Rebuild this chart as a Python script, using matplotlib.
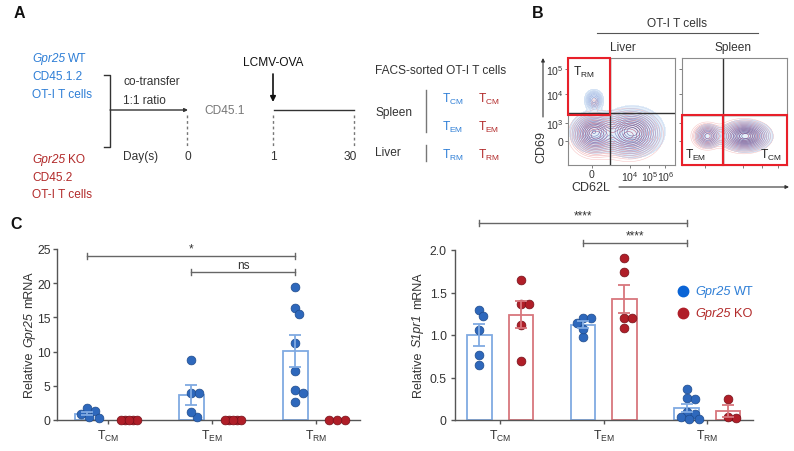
import numpy as np
import matplotlib
matplotlib.use("Agg")
import matplotlib.pyplot as plt

plt.rcParams["font.family"] = ["Liberation Sans", "DejaVu Sans"]
plt.rcParams["mathtext.fontset"] = "custom"
plt.rcParams["mathtext.rm"] = "Liberation Sans"
plt.rcParams["mathtext.it"] = "Liberation Sans:italic"
plt.rcParams["mathtext.default"] = "regular"

W, H = 794, 452

# ---- panel C data ----
categories = ["T$_{CM}$", "T$_{EM}$", "T$_{RM}$"]

gpr25_wt = [
    [0.5, 1.75, 0.9, 1.25, 0.3],
    [8.7, 4.0, 4.0, 0.4, 1.1],
    [19.5, 16.4, 15.5, 11.3, 7.1, 4.4, 3.9, 2.6],
]
gpr25_ko = [
    [0.0, 0.0, 0.0, 0.0, 0.0],
    [0.0, 0.0, 0.0, 0.0, 0.0],
    [0.0, 0.0, 0.0],
]
gpr25_yticks = [0, 5, 10, 15, 20, 25]
gpr25_sig = [("*", 0, 2, 24.0), ("ns", 1, 2, 21.6)]

s1pr1_wt = [
    [1.30, 1.22, 1.06, 0.77, 0.65],
    [1.205, 1.205, 1.14, 0.98, 1.07],
    [0.37, 0.26, 0.25, 0.10, 0.07, 0.03, 0.01, 0.01],
]
s1pr1_ko = [
    [1.65, 1.37, 1.37, 1.12, 0.69],
    [1.91, 1.74, 1.205, 1.205, 1.08],
    [0.25, 0.02, 0.04],
]
s1pr1_yticks = [0, 0.5, 1.0, 1.5, 2.0]
s1pr1_yticklabels = ["0", "0.5", "1.0", "1.5", "2.0"]
s1pr1_sig = [("****", 0, 2, 2.32), ("****", 1, 2, 2.086)]

# ---- panel B: contour populations (centre x, centre y, sigma x, sigma y, weight), axes fraction ----
liver_wt_pops = [(0.243, 0.607, 0.04, 0.045, 0.55), (0.24, 0.31, 0.09, 0.08, 1.0), (0.60, 0.31, 0.12, 0.095, 1.2)]
liver_ko_pops = [(0.25, 0.58, 0.022, 0.03, 0.12), (0.25, 0.28, 0.10, 0.09, 1.1), (0.57, 0.28, 0.13, 0.10, 1.0)]
spleen_wt_pops = [(0.25, 0.27, 0.055, 0.05, 0.6), (0.61, 0.27, 0.10, 0.06, 1.3), (0.21, 0.60, 0.01, 0.03, 0.04)]
spleen_ko_pops = [(0.24, 0.27, 0.065, 0.055, 0.7), (0.59, 0.27, 0.11, 0.065, 1.0)]
flow_ytick_pos = [0.90, 0.66, 0.39, 0.22]
flow_yticklabels = ["10$^5$", "10$^4$", "10$^3$", "0"]
flow_xtick_pos = [0.22, 0.58, 0.76, 0.91]
flow_xticklabels = ["0", "10$^4$", "10$^5$", "10$^6$"]

BLUE_PT = "#2E68BC"
BLUE_EDGE = "#1D4A8C"
BLUE_BAR = "#80AAE2"
RED_PT = "#B01E28"
RED_EDGE = "#741019"
RED_BAR = "#D8767D"
BLUE_TXT = "#2E7ED6"
RED_TXT = "#B22A2A"
AX_COL = "#555555"
TXT = "#333333"
FS = 8.6


def rect(x0, y0, x1, y1):
    return [x0 / W, 1 - y1 / H, (x1 - x0) / W, (y1 - y0) / H]


def swarm(values, ax, center, dia_px=8.0, half_px=12.0):
    # simple beeswarm in pixel space
    ppu_y = ax.bbox.height / (ax.get_ylim()[1] - ax.get_ylim()[0])
    ppu_x = ax.bbox.width / (ax.get_xlim()[1] - ax.get_xlim()[0])
    placed = []
    xs = [0.0] * len(values)
    order = np.argsort(values)[::-1]
    cands = np.arange(0, half_px + 0.1, 2.0)
    cands = sorted(set(list(cands) + list(-cands)), key=abs)
    for i in order:
        y = values[i] * ppu_y
        best, best_d = 0.0, -1
        for c in cands:
            d = min([np.hypot(c - px, y - py) for px, py in placed] or [99])
            if d >= 0.9 * dia_px:
                best = c
                break
            if d > best_d:
                best, best_d = c, d
        placed.append((best, y))
        xs[i] = center + best / ppu_x
    return xs


def bar_panel(ax, wt, ko, yticks, ylim, xlim, sig):
    ax.set_xlim(*xlim)
    ax.set_ylim(*ylim)
    off, bw = 0.2, 0.235
    for i in range(len(categories)):
        for vals, sgn, pc, ec, bc in [(wt[i], -1, BLUE_PT, BLUE_EDGE, BLUE_BAR),
                                      (ko[i], 1, RED_PT, RED_EDGE, RED_BAR)]:
            x = i + sgn * off
            v = np.array(vals)
            m = v.mean()
            sem = v.std(ddof=1) / np.sqrt(len(v))
            ax.bar(x, m, width=bw, facecolor="white", edgecolor=bc, linewidth=1.3, zorder=1)
            xs = swarm(vals, ax, x)
            ax.scatter(xs, vals, s=40, facecolor=pc, edgecolor=ec, linewidth=0.5, zorder=3, clip_on=False)
            if sem > 0:
                ax.errorbar(x, m, yerr=sem, color=bc, capsize=4.5, elinewidth=1.3, capthick=1.3, zorder=4)
    for lab, a, b, y in sig:
        x0, x1 = a - off, b - off
        cap = (ylim[1] - ylim[0]) * 0.018
        ax.plot([x0, x1], [y, y], color="#666666", lw=1.0, clip_on=False)
        ax.plot([x0, x0], [y - cap, y + cap], color="#666666", lw=1.0, clip_on=False)
        ax.plot([x1, x1], [y - cap, y + cap], color="#666666", lw=1.0, clip_on=False)
        ax.text((x0 + x1) / 2, y + cap * 0.5, lab, ha="center", va="bottom", fontsize=8.5, color=TXT)
    for s in ["top", "right"]:
        ax.spines[s].set_visible(False)
    for s in ["left", "bottom"]:
        ax.spines[s].set_color(AX_COL)
        ax.spines[s].set_linewidth(1.0)
    ax.set_xticks(range(len(categories)))
    ax.set_xticklabels(categories, fontsize=9.5, color=TXT)
    ax.set_yticks(yticks)
    ax.tick_params(colors=AX_COL, labelcolor=TXT, labelsize=8.8, length=3, width=1.0)
    ax.tick_params(axis="y", pad=1.5)
    ax.tick_params(axis="x", pad=3)


def density(pops, X, Y):
    Z = np.zeros_like(X)
    for cx, cy, sx, sy, w in pops:
        Z += w * np.exp(-((X - cx) ** 2 / (2 * sx ** 2) + (Y - cy) ** 2 / (2 * sy ** 2)))
    return Z


def flow_panel(ax, wt_pops, ko_pops, vline, hline):
    g = np.linspace(0, 1, 240)
    X, Y = np.meshgrid(g, g)
    lv = np.array([0.04, 0.07, 0.1, 0.14, 0.19, 0.25, 0.32, 0.4, 0.48, 0.56, 0.65, 0.74, 0.83, 0.92])
    Zw = density(wt_pops, X, Y)
    Zk = density(ko_pops, X, Y)
    ax.contourf(X, Y, Zw, levels=[0.035 * Zw.max(), Zw.max() * 1.01], colors=["#d3e2f5"], alpha=0.55)
    kcol = plt.matplotlib.colors.LinearSegmentedColormap.from_list("k", ["#f4b4b4", "#d04a5a", "#9a2a60"])
    wcol = plt.matplotlib.colors.LinearSegmentedColormap.from_list("w", ["#b8cfee", "#5a78c8", "#2a3688"])
    ax.contour(X, Y, Zk, levels=lv * Zk.max(), colors=[kcol(t) for t in np.linspace(0, 1, len(lv))],
               linewidths=0.4, alpha=0.75)
    ax.contour(X, Y, Zw, levels=lv * Zw.max(), colors=[wcol(t) for t in np.linspace(0, 1, len(lv))],
               linewidths=0.4, alpha=0.7)
    ax.axvline(vline, color="#333333", lw=1.0)
    ax.axhline(hline, color="#333333", lw=1.0)
    ax.set_xlim(0, 1)
    ax.set_ylim(0, 1)
    for s in ax.spines.values():
        s.set_color("#8a8a8a")
        s.set_linewidth(0.8)
    ax.set_xticks(flow_xtick_pos)
    ax.set_yticks(flow_ytick_pos)
    ax.tick_params(length=2, width=0.6, colors="#666666", labelsize=7.6, labelcolor=TXT, pad=1)


fig = plt.figure(figsize=(W / 100, H / 100), dpi=100)

# ---- panel C ----
axl = fig.add_axes(rect(57, 250, 360, 421))
bar_panel(axl, gpr25_wt, gpr25_ko, gpr25_yticks, (0, 25), (-0.49, 2.42), gpr25_sig)

axr = fig.add_axes(rect(455, 251, 753, 421))
bar_panel(axr, s1pr1_wt, s1pr1_ko, s1pr1_yticks, (0, 2.0), (-0.435, 2.44), s1pr1_sig)
axr.set_yticklabels(s1pr1_yticklabels)
axr.tick_params(axis="y", pad=3)

# ---- panel B ----
axlv = fig.add_axes(rect(568, 59, 675, 166))
flow_panel(axlv, liver_wt_pops, liver_ko_pops, 0.39, 0.49)
axlv.set_yticklabels(flow_yticklabels)
axlv.set_xticklabels(flow_xticklabels)
axsp = fig.add_axes(rect(682, 59, 787, 166))
flow_panel(axsp, spleen_wt_pops, spleen_ko_pops, 0.39, 0.47)
axsp.set_yticklabels([])
axsp.set_xticklabels([])

# ---- overlay: schematic (A), panel labels, gates, labels with italic gene names ----
ov = fig.add_axes([0, 0, 1, 1])
ov.set_xlim(0, W)
ov.set_ylim(H, 0)
ov.axis("off")
ov.set_zorder(10)
ov.patch.set_alpha(0)


def mixed(x, y, parts, color, fs=FS, gap=2.3):
    t = ov.text(x, y, parts[0][0], fontsize=fs, color=color, va="center", ha="left",
                style="italic" if parts[0][1] else "normal")
    for s, it in parts[1:]:
        t = ov.annotate(s, xy=(1, 0), xycoords=t, xytext=(gap, 0), textcoords="offset points",
                        fontsize=fs, color=color, va="bottom", ha="left",
                        style="italic" if it else "normal")
    return t


def mixed_vert(x, y_bottom, parts, color, fs=9, gap=3.2):
    t = ov.text(x, y_bottom, parts[0][0], fontsize=fs, color=color, va="bottom", ha="center",
                rotation=90, style="italic" if parts[0][1] else "normal")
    for s, it in parts[1:]:
        t = ov.annotate(s, xy=(0, 1), xycoords=t, xytext=(0, gap), textcoords="offset points",
                        fontsize=fs, color=color, va="bottom", ha="left", rotation=90,
                        style="italic" if it else "normal")
    return t


mixed_vert(29, 397, [("Relative", False), ("Gpr25", True), ("mRNA", False)], TXT)
mixed_vert(418, 397, [("Relative", False), ("S1pr1", True), ("mRNA", False)], TXT)

# legend of panel C right
ov.plot([683], [292], ls="none", marker="o", markersize=7.5, color="#0A64D6")
ov.plot([683], [314], ls="none", marker="o", markersize=7.5, color=RED_PT)
mixed(695, 292, [("Gpr25", True), ("WT", False)], BLUE_TXT, fs=9.2)
mixed(695, 314, [("Gpr25", True), ("KO", False)], RED_TXT, fs=9.2)

for lab, x, y in [("A", 14, 14), ("B", 532, 13), ("C", 10, 225)]:
    ov.text(x, y, lab, fontsize=11.5, fontweight="bold", ha="left", va="center", color="#111111")

mixed(32, 59, [("Gpr25", True), ("WT", False)], BLUE_TXT)
ov.text(32, 77, "CD45.1.2", fontsize=FS, color=BLUE_TXT, va="center")
ov.text(32, 95, "OT-I T cells", fontsize=FS, color=BLUE_TXT, va="center")
mixed(32, 160, [("Gpr25", True), ("KO", False)], RED_TXT)
ov.text(32, 178, "CD45.2", fontsize=FS, color=RED_TXT, va="center")
ov.text(32, 195, "OT-I T cells", fontsize=FS, color=RED_TXT, va="center")

ov.plot([104, 110, 110, 104], [76, 76, 148, 148], color=TXT, lw=1.0)
ov.annotate("", xy=(188, 111), xytext=(110, 111),
            arrowprops=dict(arrowstyle="-|>", color=TXT, lw=1.0, mutation_scale=5, shrinkA=0, shrinkB=0))
ov.text(123, 82, "co-transfer", fontsize=FS, color=TXT, va="center")
ov.text(123, 101, "1:1 ratio", fontsize=FS, color=TXT, va="center")
ov.text(204, 111, "CD45.1", fontsize=FS, color="#777777", va="center")
for x in [187, 273, 354]:
    ov.plot([x, x], [116, 148], color="#777777", lw=1.0, ls=(0, (2, 2)))
ov.text(123, 157, "Day(s)", fontsize=FS, color=TXT, va="center")
for lab, x in [("0", 188), ("1", 273), ("30", 350)]:
    ov.text(x, 157, lab, fontsize=FS, color=TXT, va="center", ha="center")
ov.text(273, 63, "LCMV-OVA", fontsize=FS, color="#111111", va="center", ha="center")
ov.annotate("", xy=(273, 103), xytext=(273, 75),
            arrowprops=dict(arrowstyle="-|>", color="#111111", lw=1.2, mutation_scale=8, shrinkA=0, shrinkB=0))
ov.plot([274, 354], [111, 111], color=TXT, lw=1.0)

ov.text(375, 71, "FACS-sorted OT-I T cells", fontsize=FS, color=TXT, va="center")
ov.text(375, 113, "Spleen", fontsize=FS, color=TXT, va="center")
ov.text(375, 153, "Liver", fontsize=FS, color=TXT, va="center")
ov.plot([426, 426], [91, 133], color="#777777", lw=1.0)
ov.plot([426, 426], [146, 162], color="#777777", lw=1.0)
for lab, y in [("T$_{CM}$", 99), ("T$_{EM}$", 127), ("T$_{RM}$", 155)]:
    ov.text(442, y, lab, fontsize=FS, color=BLUE_TXT, va="center")
    ov.text(478, y, lab, fontsize=FS, color=RED_TXT, va="center")

ov.text(677, 24, "OT-I T cells", fontsize=FS, color=TXT, va="center", ha="center")
ov.plot([597, 758], [34, 34], color="#555555", lw=0.8)
ov.text(623, 48, "Liver", fontsize=FS, color=TXT, va="center", ha="center")
ov.text(733, 48, "Spleen", fontsize=FS, color=TXT, va="center", ha="center")

red = "#E8202A"
ov.add_patch(plt.Rectangle((568, 59), 42, 57, fill=False, edgecolor=red, lw=1.5))
ov.add_patch(plt.Rectangle((682, 116), 41, 50, fill=False, edgecolor=red, lw=1.5))
ov.add_patch(plt.Rectangle((723, 116), 64, 50, fill=False, edgecolor=red, lw=1.5))
ov.text(573, 72, "T$_{RM}$", fontsize=FS, color="#222222", va="center")
ov.text(685, 155, "T$_{EM}$", fontsize=FS, color="#222222", va="center")
ov.text(760, 155, "T$_{CM}$", fontsize=FS, color="#222222", va="center")

ov.annotate("", xy=(543, 59), xytext=(543, 118),
            arrowprops=dict(arrowstyle="-|>", color="#333333", lw=0.8, mutation_scale=5, shrinkA=0, shrinkB=0))
ov.text(541, 147, "CD69", fontsize=9, color=TXT, rotation=90, va="center", ha="center")
ov.text(591, 188, "CD62L", fontsize=9, color=TXT, va="center", ha="center")
ov.annotate("", xy=(789, 188), xytext=(619, 188),
            arrowprops=dict(arrowstyle="-|>", color="#333333", lw=0.8, mutation_scale=5, shrinkA=0, shrinkB=0))

fig.savefig("out.png", dpi=100)
